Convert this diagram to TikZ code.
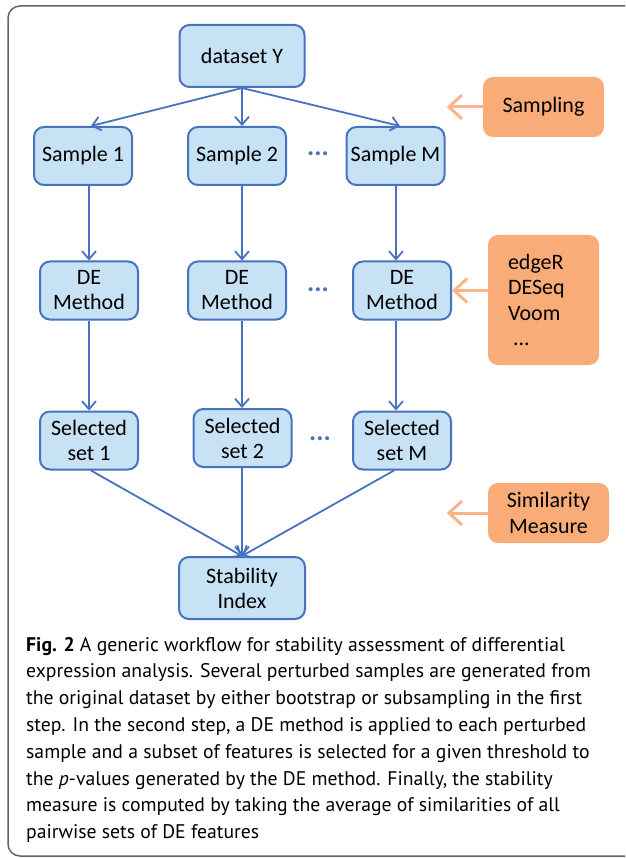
\documentclass[tikz,border=0pt]{standalone}
\usepackage{fontspec}
\setmainfont{Carlito}
\newfontfamily\capfont{PT Sans}
\usetikzlibrary{arrows.meta,calc}
\definecolor{boxfill}{RGB}{199,225,245}
\definecolor{boxline}{RGB}{70,114,190}
\definecolor{orfill}{RGB}{250,172,120}
\definecolor{orline}{RGB}{250,180,140}
\definecolor{framecol}{RGB}{100,100,100}
\begin{document}
\begin{tikzpicture}[x=1pt,y=-1pt,
 bbox/.style={draw=boxline, fill=boxfill, line width=2pt, rounded corners=10pt, minimum width=98pt, minimum height=58pt, inner sep=0pt, align=center, font=\fontsize{22}{25}\selectfont},
 obox/.style={fill=orfill, rounded corners=10pt, inner sep=0pt, minimum width=121pt, minimum height=60pt, align=center, font=\fontsize{22}{25.5}\selectfont},
 arr/.style={draw=boxline, line width=1.8pt, -{Straight Barb[length=8pt,width=14pt]}},
 oarr/.style={draw=orline, line width=3pt, -{Straight Barb[length=13pt,width=24pt]}},
 dots/.style={text=boxline, font=\fontsize{27}{30}\selectfont\bfseries, anchor=base, inner sep=0pt}
]
\useasboundingbox (0,0) rectangle (625,858);
\begin{scope}
\clip (0,0) rectangle (625,858);
\draw[framecol, line width=1.5pt, rounded corners=12pt] (8,6) rectangle (680,856);
\end{scope}

\node[bbox, minimum width=125pt, minimum height=62pt] (ds) at (242,56) {dataset Y};
\node[bbox] (s1) at (83,156) {Sample 1};
\node[bbox] (s2) at (237,156) {Sample 2};
\node[bbox] (sM) at (395.5,156) {Sample M};
\node[bbox] (d1) at (89,290.5) {DE\\Method};
\node[bbox] (d2) at (237,290.5) {DE\\Method};
\node[bbox] (dM) at (402,290.5) {DE\\Method};
\node[bbox] (e1) at (89,440.5) {Selected\\set 1};
\node[bbox] (e2) at (242.5,438) {Selected\\set 2};
\node[bbox] (eM) at (402,440.5) {Selected\\set M};
\node[bbox, minimum width=126pt, minimum height=62pt] (st) at (242,588) {Stability\\Index};

\node[obox] (samp) at (543.5,107) {Sampling};
\node[obox, minimum width=111pt, minimum height=130pt, text width=71pt, inner xsep=20pt, align=left] (tools) at (543.5,300) {edgeR\\DESeq\\Voom\\\hspace*{5pt}...};
\node[obox] (sim) at (548.5,513) {Similarity\\Measure};

\node[dots] (dt1) at (318,155.5) {...};
\node[dots] (dt2) at (318,291.5) {...};
\node[dots] (dt3) at (320,440.5) {...};

\coordinate (c1) at (89,0);
\coordinate (c2) at (242,0);
\coordinate (c3) at (396,0);

\draw[arr] (ds.south) -- ($(s1.north)+(8,0)$);
\draw[arr] (ds.south) -- (c2 |- s2.north);
\draw[arr] (ds.south) -- ($(sM.north)+(4.5,0)$);

\draw[arr] (c1 |- s1.south) -- (c1 |- d1.north);
\draw[arr] (c2 |- s2.south) -- (c2 |- d2.north);
\draw[arr] (c3 |- sM.south) -- (c3 |- dM.north);

\draw[arr] (c1 |- d1.south) -- (c1 |- e1.north);
\draw[arr] (c2 |- d2.south) -- (c2 |- e2.north);
\draw[arr] (c3 |- dM.south) -- (c3 |- eM.north);

\draw[arr] ($(e1.south)+(2,0)$) -- (st.north);
\draw[arr] (c2 |- e2.south) -- (st.north);
\draw[arr] ($(eM.south)+(-8,0)$) -- (st.north);

\draw[oarr] (samp.west) -- ++(-36,0);
\draw[oarr] (tools.west |- dM.east) -- (dM.east);
\draw[oarr] (sim.west) -- ++(-41,0);

\node[anchor=base west, align=left, inner sep=0pt, font=\capfont\fontsize{19.7}{26.8}\selectfont] (cap) at (26,838.6) {\textbf{Fig. 2} A generic workflow for stability assessment of differential\\
expression analysis. Several perturbed samples are generated from\\
the original dataset by either bootstrap or subsampling in the first\\
step. In the second step, a DE method is applied to each perturbed\\
sample and a subset of features is selected for a given threshold to\\
the \textit{p}-values generated by the DE method. Finally, the stability\\
measure is computed by taking the average of similarities of all\\
pairwise sets of DE features};
\end{tikzpicture}
\end{document}
